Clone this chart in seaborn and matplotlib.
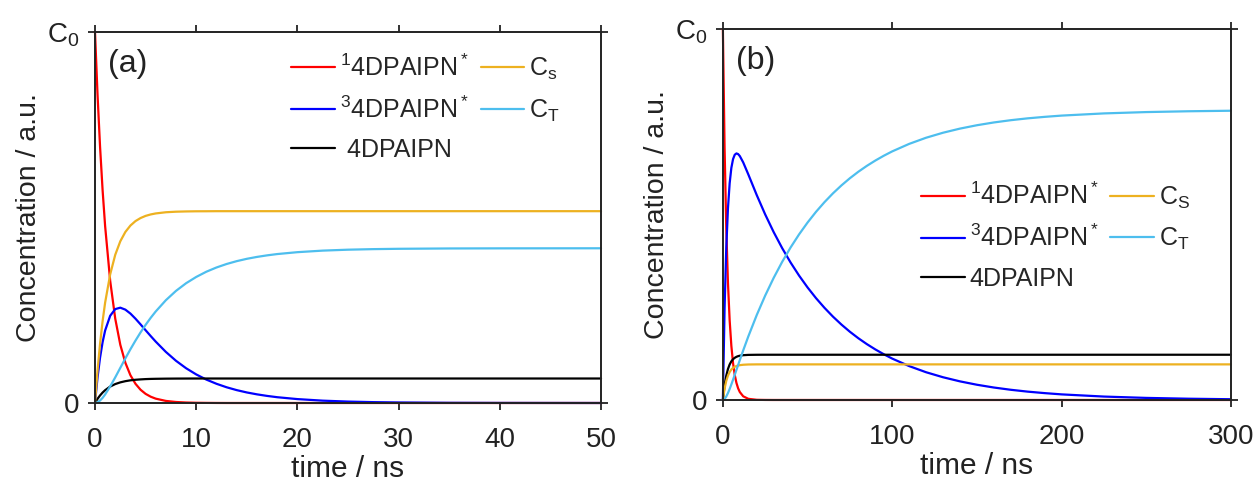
import matplotlib
matplotlib.use('Agg')
import matplotlib.pyplot as plt
import seaborn as sns

# ---------------- data ----------------
# panel (a): time / ns
t_a = [0, 0.25, 0.5, 0.75, 1, 1.5, 2, 2.5, 3, 3.5,
       4, 4.5, 5, 5.5, 6, 7, 8, 9, 10, 11,
       12, 13, 14, 15, 16, 17, 18, 20, 22.5, 25,
       27.5, 30, 35, 40, 50]
s1_a = [1, 0.831, 0.6905, 0.5738, 0.4768, 0.3292, 0.2273, 0.1569, 0.1084, 0.0748,
        0.0517, 0.0357, 0.0246, 0.0170, 0.0117, 0.0056, 0.0027, 0.0013, 0.0006, 0.0003,
        0.0001, 0, 0, 0, 0, 0, 0, 0, 0, 0,
        0, 0, 0, 0, 0]
t1_a = [0, 0.0687, 0.1224, 0.1639, 0.1953, 0.2351, 0.2531, 0.2569, 0.2516, 0.2410,
        0.2272, 0.2119, 0.1961, 0.1805, 0.1654, 0.1377, 0.1138, 0.0937, 0.0770, 0.0631,
        0.0518, 0.0424, 0.0347, 0.0284, 0.0233, 0.0191, 0.0156, 0.0105, 0.0063, 0.0038,
        0.0023, 0.0014, 0.0005, 0.0002, 0.0]
gs_a = [0, 0.0112, 0.0204, 0.0281, 0.0345, 0.0443, 0.0510, 0.0556, 0.0588, 0.0611,
        0.0626, 0.0636, 0.0644, 0.0649, 0.0652, 0.0656, 0.0658, 0.0659, 0.066, 0.066,
        0.066, 0.066, 0.066, 0.066, 0.066, 0.066, 0.066, 0.066, 0.066, 0.066,
        0.066, 0.066, 0.066, 0.066, 0.066]
cs_a = [0, 0.0874, 0.1600, 0.2203, 0.2705, 0.3468, 0.3995, 0.4359, 0.4610, 0.4783,
        0.4903, 0.4985, 0.5043, 0.5082, 0.5109, 0.5141, 0.5156, 0.5163, 0.5167, 0.5168,
        0.517, 0.517, 0.517, 0.517, 0.517, 0.517, 0.517, 0.517, 0.517, 0.517,
        0.517, 0.517, 0.517, 0.517, 0.517]
ct_a = [0, 0.0018, 0.0067, 0.0138, 0.0229, 0.0446, 0.0691, 0.0947, 0.1202, 0.1448,
        0.1682, 0.1902, 0.2106, 0.2294, 0.2467, 0.2770, 0.3021, 0.3228, 0.3397, 0.3538,
        0.3652, 0.3746, 0.3823, 0.3886, 0.3937, 0.3979, 0.4014, 0.4065, 0.4107, 0.4132,
        0.4147, 0.4156, 0.4165, 0.4168, 0.417]

# panel (b): time / ns
t_b = [0, 1, 2, 3, 4, 5, 6, 7, 8, 9,
       10, 12, 15, 20, 25, 30, 35, 40, 45, 50,
       55, 60, 65, 70, 75, 80, 85, 90, 95, 100,
       110, 120, 130, 140, 150, 160, 170, 180, 190, 200,
       225, 250, 275, 300]
s1_b = [1, 0.6808, 0.4634, 0.3154, 0.2147, 0.1462, 0.0995, 0.0677, 0.0461, 0.0314,
        0.0214, 0.0099, 0.0031, 0.0005, 0.0001, 0, 0, 0, 0, 0,
        0, 0, 0, 0, 0, 0, 0, 0, 0, 0,
        0, 0, 0, 0, 0, 0, 0, 0, 0, 0,
        0, 0, 0, 0]
t1_b = [0, 0.2470, 0.4103, 0.5167, 0.5844, 0.6258, 0.6495, 0.6613, 0.6649, 0.6631,
        0.6577, 0.6407, 0.6085, 0.5525, 0.5002, 0.4527, 0.4096, 0.3706, 0.3354, 0.3035,
        0.2746, 0.2485, 0.2248, 0.2034, 0.1840, 0.1665, 0.1507, 0.1364, 0.1234, 0.1116,
        0.0914, 0.0748, 0.0613, 0.0502, 0.0411, 0.0336, 0.0275, 0.0225, 0.0185, 0.0151,
        0.0092, 0.0056, 0.0034, 0.0020]
gs_b = [0, 0.0389, 0.0655, 0.0835, 0.0958, 0.1042, 0.1099, 0.1137, 0.1164, 0.1182,
        0.1194, 0.1208, 0.1216, 0.1219, 0.122, 0.122, 0.122, 0.122, 0.122, 0.122,
        0.122, 0.122, 0.122, 0.122, 0.122, 0.122, 0.122, 0.122, 0.122, 0.122,
        0.122, 0.122, 0.122, 0.122, 0.122, 0.122, 0.122, 0.122, 0.122, 0.122,
        0.122, 0.122, 0.122, 0.122]
cs_b = [0, 0.0306, 0.0515, 0.0657, 0.0754, 0.0820, 0.0864, 0.0895, 0.0916, 0.0930,
        0.0939, 0.0950, 0.0957, 0.0960, 0.096, 0.096, 0.096, 0.096, 0.096, 0.096,
        0.096, 0.096, 0.096, 0.096, 0.096, 0.096, 0.096, 0.096, 0.096, 0.096,
        0.096, 0.096, 0.096, 0.096, 0.096, 0.096, 0.096, 0.096, 0.096, 0.096,
        0.096, 0.096, 0.096, 0.096]
ct_b = [0, 0.0026, 0.0093, 0.0187, 0.0297, 0.0419, 0.0547, 0.0678, 0.0810, 0.0943,
        0.1076, 0.1336, 0.1711, 0.2291, 0.2817, 0.3293, 0.3724, 0.4114, 0.4466, 0.4785,
        0.5074, 0.5335, 0.5572, 0.5786, 0.5980, 0.6155, 0.6313, 0.6456, 0.6586, 0.6704,
        0.6906, 0.7072, 0.7207, 0.7318, 0.7409, 0.7484, 0.7545, 0.7595, 0.7635, 0.7669,
        0.7728, 0.7764, 0.7786, 0.7800]

xticks_a = [0, 10, 20, 30, 40, 50]
xticks_b = [0, 100, 200, 300]
yticks = [0, 1]
ytick_labels = ['0', 'C$_0$']

labels_a = ['$^1$4DPAIPN$^*$', '$^3$4DPAIPN$^*$', ' 4DPAIPN', 'C$_s$', 'C$_T$']
labels_b = ['$^1$4DPAIPN$^*$', '$^3$4DPAIPN$^*$', '4DPAIPN', 'C$_S$', 'C$_T$']
colors = ['#FF0000', '#0000FF', '#000000', '#EDB120', '#4DBEEE']

# ---------------- style ----------------
sns.set_style('ticks')
plt.rcParams['font.family'] = ['Liberation Sans', 'DejaVu Sans']
plt.rcParams['mathtext.fontset'] = 'custom'
plt.rcParams['mathtext.rm'] = 'Liberation Sans'
plt.rcParams['mathtext.it'] = 'Liberation Sans'
plt.rcParams['mathtext.bf'] = 'Liberation Sans:bold'
plt.rcParams['mathtext.default'] = 'regular'

fig = plt.figure(figsize=(12.55, 4.86), dpi=100)
ax_a = fig.add_axes([0.0757, 0.1708, 0.4032, 0.7634])
ax_b = fig.add_axes([0.576, 0.177, 0.4048, 0.763])


def draw(ax, t, series, labels, xticks, xmax, tag, leg_anchor):
    for y, lab, c in zip(series, labels, colors):
        sns.lineplot(x=t, y=y, ax=ax, color=c, lw=1.6, label=lab,
                     estimator=None, sort=False, clip_on=False)
    ax.set_xlim(0, xmax)
    ax.set_ylim(0, 1)
    ax.set_xticks(xticks)
    ax.set_yticks(yticks)
    ax.set_yticklabels(ytick_labels)
    ax.tick_params(axis='both', direction='out', length=5, width=1.3,
                   labelsize=20, colors='#222222', top=True, right=True)
    ax.tick_params(axis='x', pad=12)
    ax.tick_params(axis='y', pad=6)
    for sp in ax.spines.values():
        sp.set_linewidth(1.4)
        sp.set_color('#222222')
    ax.set_xlabel('time / ns', fontsize=21.5, color='#222222')
    ax.set_ylabel('Concentration / a.u.', fontsize=20.5, color='#222222')
    ax.xaxis.set_label_coords(0.5, -0.14)
    ax.yaxis.set_label_coords(-0.105, 0.5)
    ax.text(0.025, 0.955, tag, transform=ax.transAxes, fontsize=23,
            ha='left', va='top', color='#222222')
    handles, labs = ax.get_legend_handles_labels()
    ax.legend(handles, labs, ncol=2, loc='upper left', bbox_to_anchor=leg_anchor,
              frameon=False, fontsize=18, handlelength=1.75, handletextpad=0.2,
              columnspacing=0.45, labelspacing=0.62, borderpad=0, borderaxespad=0)


draw(ax_a, t_a, [s1_a, t1_a, gs_a, cs_a, ct_a], labels_a, xticks_a, 50, '(a)',
     (0.388, 0.94))
draw(ax_b, t_b, [s1_b, t1_b, gs_b, cs_b, ct_b], labels_b, xticks_b, 300, '(b)',
     (0.39, 0.585))

fig.savefig('out.png', dpi=100)
